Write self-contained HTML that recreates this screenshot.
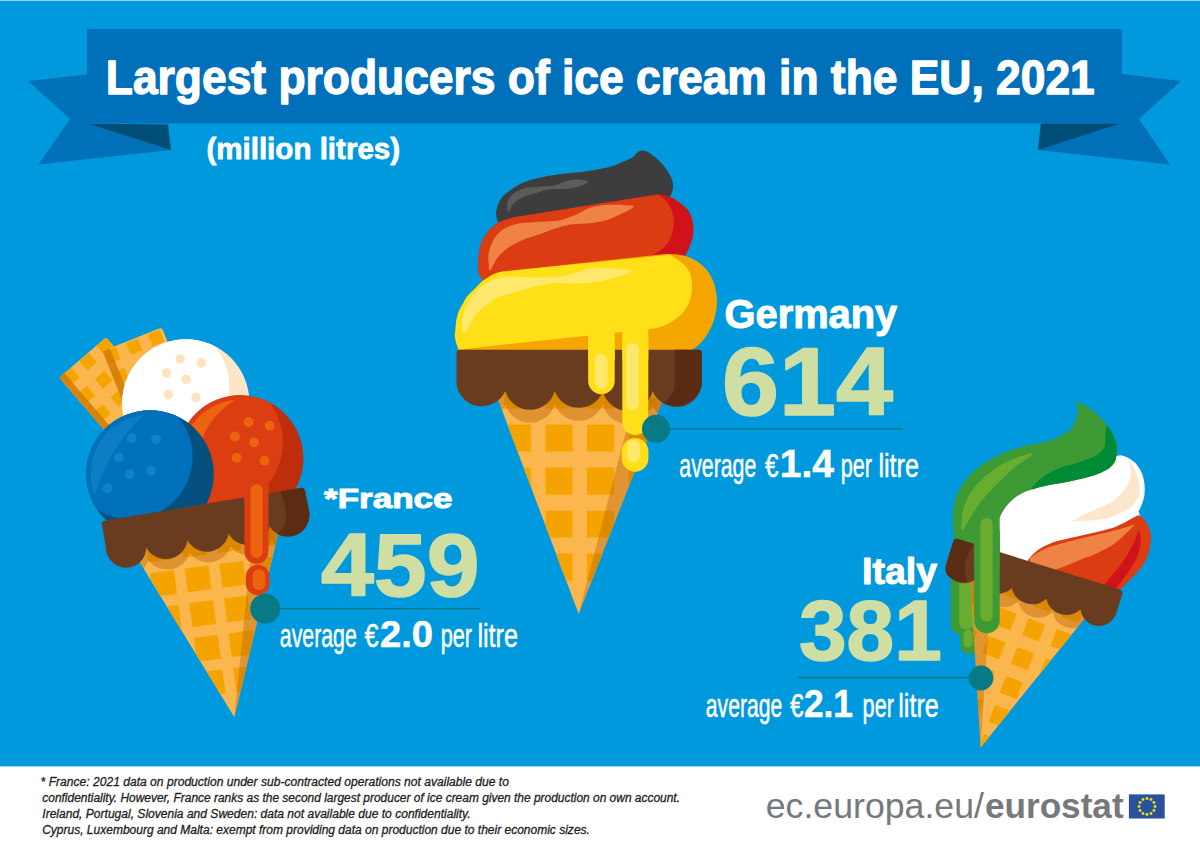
<!DOCTYPE html>
<html><head><meta charset="utf-8">
<style>
html,body{margin:0;padding:0;width:1200px;height:854px;overflow:hidden;background:#fff;}
svg{display:block;}
text{font-family:"Liberation Sans",sans-serif;}
</style></head>
<body>
<svg width="1200" height="854" viewBox="0 0 1200 854">
<!-- background -->
<rect x="0" y="0" width="1200" height="766.4" fill="#0099dd"/>
<rect x="0" y="0" width="1200" height="1" fill="#9ad5f2"/>
<!-- banner -->
<polygon points="28,81 87,74.5 87,123.5 171,150 38.6,164.6 70,119" fill="#0070b9"/>
<polygon points="87,123.5 168,124.5 171,150" fill="#004e78"/>
<polygon points="1122,74 1181,81 1139,119 1170,164.4 1038,150 1041,123.5 1122,123.5" fill="#0070b9"/>
<polygon points="1041,123.5 1120,123.5 1038,150" fill="#004e78"/>
<rect x="87" y="29" width="1035" height="94.5" fill="#0070bb"/>
<text x="105.8" y="94" font-size="48" font-weight="bold" fill="#fff" stroke="#fff" stroke-width="1.3" stroke-linejoin="round" textLength="989" lengthAdjust="spacingAndGlyphs">Largest producers of ice cream in the EU, 2021</text>
<text x="206.4" y="158.6" font-size="30" font-weight="bold" fill="#fff" stroke="#fff" stroke-width="0.8" stroke-linejoin="round" textLength="193.7" lengthAdjust="spacingAndGlyphs">(million litres)</text>

<g id="france">
<defs>
<clipPath id="fcone"><polygon points="114,520 281.4,520 234.4,717.3"/></clipPath>
<pattern id="fwaf" patternUnits="userSpaceOnUse" width="35" height="35" patternTransform="translate(193.9,638) rotate(-7.6)"><rect x="0" y="0" width="24" height="24" fill="#f5a300"/></pattern>
<pattern id="w1waf" patternUnits="userSpaceOnUse" width="23" height="24" patternTransform="translate(59.1,377.8) rotate(-40.8) translate(3.2,0.4)"><rect x="0" y="0" width="12.5" height="12.5" fill="#f5a300"/></pattern>
<pattern id="w2waf" patternUnits="userSpaceOnUse" width="23.5" height="22" patternTransform="translate(102.5,351.2) rotate(-21.8)"><rect x="1.5" y="1.5" width="12.5" height="12.5" fill="#f5a300"/></pattern>
<clipPath id="wball"><circle cx="185.8" cy="402.9" r="63.7"/></clipPath>
<clipPath id="bball"><circle cx="150" cy="474" r="63.8"/></clipPath>
<clipPath id="rball"><circle cx="240.3" cy="458.3" r="63.1"/></clipPath>
</defs>
<!-- wafer 1 -->
<g transform="translate(59.1,377.8) rotate(-40.8)">
<rect x="0" y="0" width="62" height="140" rx="3" fill="#fbb64e"/>
</g>
<rect x="0" y="300" width="200" height="200" fill="url(#w1waf)" clip-path="url(#w1clip)"/>
<clipPath id="w1clip"><rect x="0" y="0" width="62" height="140" rx="3" transform="translate(59.1,377.8) rotate(-40.8)"/></clipPath>
<g transform="translate(59.1,377.8) rotate(-40.8)">
<rect x="0" y="0" width="7" height="140" fill="#d07800" opacity="0.8"/>
</g>
<!-- wafer 2 -->
<clipPath id="w2clip"><rect x="0" y="0" width="64" height="120" rx="3" transform="translate(102.5,351.2) rotate(-21.8)"/></clipPath>
<g transform="translate(102.5,351.2) rotate(-21.8)">
<rect x="0" y="0" width="64" height="120" rx="3" fill="#fbb64e"/>
</g>
<rect x="0" y="300" width="250" height="200" fill="url(#w2waf)" clip-path="url(#w2clip)"/>
<g transform="translate(102.5,351.2) rotate(-21.8)">
<rect x="0" y="0" width="8" height="120" fill="#d07800" opacity="0.8"/>
</g>
<!-- white ball -->
<circle cx="185.8" cy="402.9" r="63.7" fill="#fde6c6"/>
<circle cx="166.7" cy="386.4" r="62.6" fill="#ffffff" clip-path="url(#wball)"/>
<g fill="#fde3c0">
<circle cx="180.3" cy="359" r="4.8"/><circle cx="201.4" cy="362.9" r="4.8"/><circle cx="166.6" cy="373" r="4.8"/>
<circle cx="186" cy="379.2" r="4.8"/><circle cx="168.5" cy="394.6" r="4.8"/><circle cx="196" cy="397.5" r="4.8"/>
</g>
<!-- cone -->
<g clip-path="url(#fcone)">
<rect x="120" y="500" width="170" height="220" fill="#fbb64e"/>
<rect x="120" y="500" width="170" height="220" fill="url(#fwaf)"/>
<polygon points="234.4,717.3 253.1,530 290,520 290,720" fill="#b05800" opacity="0.35"/>
<g transform="translate(101.4,521.25) rotate(-9.51)">
<path d="M0,20 L210,20 L210,38 A21,21 0 0 1 165,46 A23.5,23.5 0 0 1 123.4,46 A23.5,23.5 0 0 1 81.8,46 A23.5,23.5 0 0 1 39.9,46 A21,21 0 0 1 0,38 Z" fill="#b35a00" opacity="0.38"/>
<rect x="0" y="20" width="210" height="16" fill="#d47f00" opacity="0.6"/>
</g>
</g>
<!-- red ball -->
<circle cx="240.3" cy="458.3" r="63.1" fill="#bf2e0c"/>
<circle cx="216" cy="442.3" r="66.9" fill="#dc3e12" clip-path="url(#rball)"/>
<mask id="rhlm" maskUnits="userSpaceOnUse" x="0" y="0" width="1200" height="854"><circle cx="240.3" cy="458.3" r="58.6" fill="#fff"/><circle cx="274.6" cy="467.4" r="78.1" fill="#000"/></mask>
<rect x="170" y="390" width="140" height="140" fill="#ec6410" mask="url(#rhlm)"/>
<g fill="#ec6410">
<circle cx="248.5" cy="422" r="4.9"/><circle cx="269.7" cy="425.7" r="4.9"/><circle cx="234.9" cy="436.5" r="4.9"/>
<circle cx="254.1" cy="442.4" r="4.9"/><circle cx="236.7" cy="457.8" r="4.9"/><circle cx="264.6" cy="460.7" r="4.9"/>
</g>
<!-- blue ball -->
<circle cx="150" cy="474" r="63.8" fill="#05507e"/>
<circle cx="130.4" cy="457" r="62.2" fill="#0070ba" clip-path="url(#bball)"/>
<path d="M0,0" fill="none"/>
<mask id="bhlm" maskUnits="userSpaceOnUse" x="0" y="0" width="1200" height="854"><circle cx="150" cy="474" r="59.3" fill="#fff"/><circle cx="265.4" cy="544.4" r="177.6" fill="#000"/></mask>
<rect x="80" y="400" width="140" height="140" fill="#0b7ec6" mask="url(#bhlm)"/>
<g fill="#0b84cc">
<circle cx="131.6" cy="438.5" r="4.9"/><circle cx="155.9" cy="439.3" r="4.9"/><circle cx="118.9" cy="457.7" r="4.9"/>
<circle cx="151" cy="470.5" r="4.9"/><circle cx="129.7" cy="474.1" r="4.9"/><circle cx="107.4" cy="488.2" r="4.9"/>
</g>
<!-- chocolate -->
<g transform="translate(101.4,521.25) rotate(-9.51)">
<clipPath id="fchocclip"><path d="M3,0 L202.4,0 Q205.6,0 205.8,3.5 L206.5,25 A21.6,21.6 0 0 1 165,33 A22,22 0 0 1 123.4,33 A22,22 0 0 1 81.8,33 A22,22 0 0 1 39.9,33 A20,20 0 0 1 0,27 L0,3 Q0,0 3,0 Z"/></clipPath>
<path d="M3,0 L202.4,0 Q205.6,0 205.8,3.5 L206.5,25 A21.6,21.6 0 0 1 165,33 A22,22 0 0 1 123.4,33 A22,22 0 0 1 81.8,33 A22,22 0 0 1 39.9,33 A20,20 0 0 1 0,27 L0,3 Q0,0 3,0 Z" fill="#693c1f"/>
<path d="M181.6,-5 L220,-5 L220,60 L160,60 L170,43 C174,40 177.5,38 179.3,35 C182,30 184,25 183.8,19.7 C183.5,12 182,6 181.6,-5 Z" fill="#5b2c13" clip-path="url(#fchocclip)"/>
</g>
<!-- drip -->
<rect x="244.4" y="470" width="24" height="93.7" rx="12" fill="#dc3e12"/>
<rect x="244.4" y="470" width="24" height="30" fill="#dc3e12"/>
<rect x="250.5" y="484.2" width="12.2" height="73.7" rx="6.1" fill="#ec6410"/>
<rect x="245.8" y="564.8" width="23.7" height="30.5" rx="11.85" fill="#dc3e12"/>
<rect x="252.7" y="569.5" width="12.6" height="20.5" rx="6.3" fill="#ec6410"/>
</g>
<g id="germany">
<defs>
<clipPath id="gcone"><polygon points="490.7,380 670.6,380 578.7,614"/></clipPath>
<pattern id="gwaf" patternUnits="userSpaceOnUse" x="504" y="424.6" width="41.5" height="43"><rect x="0" y="0" width="27" height="27" fill="#f5a300"/></pattern>
</defs>
<g clip-path="url(#gcone)">
<rect x="490" y="390" width="180" height="230" fill="#fbb64e"/>
<rect x="490" y="390" width="180" height="230" fill="url(#gwaf)"/>
<polygon points="578.7,614 634.6,398 670,398" fill="#b05800" opacity="0.35"/>
<path d="M456,380 L702,380 L702,404 A25.6,25.6 0 0 1 652.6,404 A25.6,25.6 0 0 1 602.8,404 A25.6,25.6 0 0 1 554.7,404 A25.6,25.6 0 0 1 505.3,404 A25.6,25.6 0 0 1 456,404 Z" fill="#b35a00" opacity="0.38"/>
<path d="M456,380 L702,380 L702,394 L456,394Z" fill="#d47f00" opacity="0.6"/>
</g>
<!-- black scoop -->
<path d="M498.8,224 C496,218 495.5,213 496.8,209 C499,200 503,195 508.3,191.8 C515,186 524,182 533.3,179.3 C550,175 565,173.5 577.3,172.6 C595,170 607,168 615.7,164.9 C623,162 628,160 632.9,157.3 C636,154 638,151 641.6,150.5 C645,150 648,152 650.2,153.4 C656,157 662,163 667.4,170.7 C671,176 673,181 673.2,186 C673,190 672,193 670.3,196 L560,240 Z" fill="#3d3d3d"/>
<path d="M508.8,212.2 C509.7,211.4 511,206.3 513.3,203.9 C515.6,201.5 518.7,199.3 522.5,197.5 C526.3,195.7 531.7,194.3 536.2,192.9 C540.8,191.5 544.7,189.9 550,189.2 C555.3,188.6 562.9,189.4 568.3,188.8 C573.6,188.2 578.8,186.8 582.1,185.6 C585.4,184.4 588.8,182.5 588,181.5 C587.2,180.5 581.1,179.7 577.5,179.6 C573.9,179.5 570.3,180 566.5,181 C562.7,182 558.9,184.7 554.6,185.6 C550.3,186.5 545.7,186.1 540.8,186.5 C535.9,186.9 529.8,186.7 525.2,187.9 C520.7,189.1 516.2,191.6 513.3,193.8 C510.4,196 508.8,198.8 507.8,201.2 C506.8,203.6 507.2,206.7 507.4,208.5 C507.6,210.3 507.8,213 508.8,212.2 Z" fill="#5c5c5c"/>
<!-- red scoop -->
<path d="M488,284 C482,280 478.6,276 478.6,270 C477.8,264 477.8,260 478.8,255.5 C479.5,248 481,242 484.5,237.1 C487,232 490,229 494.4,225.75 C497,223.5 500,221.5 504.3,220.1 C509,218.5 513,217.5 518.5,216.5 L657.8,194.3 C665,194 672,197 677.5,201 C683,205 687.5,208.5 689.7,213.1 C692,218 693.4,222 693.4,227.2 C693.6,233 693,237 691.5,241.2 C690,246 688,251 685,256.2 L560,290 L480,290 Z" fill="#d0121b"/>
<path d="M488,284 C482,280 478.6,276 478.6,270 C477.8,264 477.8,260 478.8,255.5 C479.5,248 481,242 484.5,237.1 C487,232 490,229 494.4,225.75 C497,223.5 500,221.5 504.3,220.1 C509,218.5 513,217.5 518.5,216.5 L657.8,194.6 C664,199 668,202 669.3,205.2 C673,212 674,218 674.1,222.4 C673,232 671,238 667.4,243.5 C662,250 657,253 652.1,255 L560,290 L480,290 Z" fill="#dc3c12"/>
<path d="M490.2,270.4 C491.6,269.4 494.4,262 497.2,258.3 C500.1,254.6 502.9,251.5 507.2,248.4 C511.4,245.3 517.3,242.3 522.8,239.9 C528.2,237.5 534.3,236.1 539.8,234.2 C545.2,232.4 549.9,230.3 555.3,228.6 C560.7,226.9 566.1,225.2 572.3,224.3 C578.4,223.4 585.8,223.8 592.2,222.9 C598.6,222 603.8,221.3 610.6,218.7 C617.4,216.1 630.9,209.6 633.2,207.3 C635.6,205.1 629.7,205.5 624.8,205.2 C619.8,204.8 609.4,204.7 603.5,205.2 C597.6,205.7 594,206.3 589.3,208 C584.6,209.7 579.9,213.1 575.2,215.1 C570.5,217.1 565.7,219 561,220.1 C556.3,221.2 551.5,221.2 546.8,221.5 C542.1,221.8 537.4,221.8 532.7,222.2 C528,222.5 523.2,222.5 518.5,223.6 C513.8,224.7 508.3,226.1 504.3,228.6 C500.3,231.1 497,234.5 494.4,238.5 C491.8,242.5 489.7,248.4 488.8,252.7 C487.8,256.9 488.5,261.1 488.8,264 C489,266.9 488.8,271.3 490.2,270.4 Z" fill="#ef8245"/>
<!-- yellow scoop -->
<path d="M459,351 C455,341 454,335 455.5,330.3 C456,318 458,311 462.6,304.5 C466,297 470,293 474.3,289.3 C478,285 482,281 486,278.7 C491,275 496,273 501.2,271.7 L665,254 C700,252 717,275 717,301 C717,325 703,345 690,351 Z" fill="#f5a500"/>
<path d="M459,350 C455,341 454,335 455.5,330.3 C456,318 458,311 462.6,304.5 C466,297 470,293 474.3,289.3 C478,285 482,281 486,278.7 C491,275 496,273 501.2,271.7 L669.6,254.7 C677,259 683,263 685.5,266 C689.5,271 691.5,276 691.8,283 C692.5,290 691.5,295 690.2,299 C688,306 685,311 681.2,314.5 C676,319 671,322.5 665.8,324.9 C660,327.5 654,328.8 647.7,329.3 L455,350 Z" fill="#ffdf17"/>
<path d="M465.3,332.6 C467.6,331.6 470.7,320.8 475.6,315.2 C480.5,309.6 487.5,303.3 494.6,299.3 C501.7,295.3 510.4,293.8 518.3,291.4 C526.2,289 535.5,286.6 542.1,285.1 C548.7,283.7 551.3,283 557.9,282.7 C564.5,282.4 573.8,283.9 581.7,283.5 C589.6,283.1 597.1,282.3 605.4,280.3 C613.7,278.3 630.2,273.6 631.5,271.6 C632.8,269.6 620.3,269 613.3,268.5 C606.3,268 597.5,267.3 589.6,268.5 C581.7,269.7 572.4,274.2 565.8,275.6 C559.2,277.1 556.6,276.9 550,277.2 C543.4,277.5 534.1,277.2 526.2,277.2 C518.3,277.2 509.6,275.9 502.5,277.2 C495.4,278.5 489.3,280.9 483.5,285.1 C477.7,289.3 471.3,296.4 467.7,302.5 C464.1,308.6 462.5,316.5 462.1,321.5 C461.7,326.5 463.1,333.7 465.3,332.6 Z" fill="#ffe86c"/>
<!-- chocolate -->
<path d="M459.5,349.75 L698.8,349.75 Q701.8,349.75 701.8,353 L701.8,384 A25.6,25.6 0 0 1 652.6,391 A25.6,25.6 0 0 1 602.8,391 A25.6,25.6 0 0 1 554.7,391 A25.6,25.6 0 0 1 505.3,391 A25.6,25.6 0 0 1 456.5,384 L456.5,353 Q456.5,349.75 459.5,349.75 Z" fill="#693c1f"/>
<path d="M674.9,349.75 L698.8,349.75 Q701.8,349.75 701.8,353 L701.8,384 A25.6,25.6 0 0 1 663,402 C670,398 674.9,392 674.9,384 Z" fill="#592b14"/>
<!-- drips -->
<rect x="588.2" y="330" width="26.5" height="64.2" rx="13.25" fill="#ffdf17"/>
<rect x="588.2" y="330" width="26.5" height="30" fill="#ffdf17"/>
<rect x="594.7" y="354" width="13" height="34.8" rx="6.5" fill="#ffe76a"/>
<rect x="622.3" y="329" width="26" height="106" rx="13" fill="#ffdf17"/>
<rect x="622.3" y="329" width="26" height="30" fill="#ffdf17"/>
<rect x="626" y="343" width="13" height="67" rx="6.5" fill="#ffe76a"/>
<rect x="621.8" y="438" width="26.6" height="33.7" rx="13.3" fill="#ffdf17"/>
<rect x="627" y="440" width="13" height="22.3" rx="6.5" fill="#ffe76a"/>
</g>
<g id="italy">
<defs>
<clipPath id="icone"><polygon points="969.4,560 1099.1,600.4 980.6,747.4"/></clipPath>
<pattern id="iwaf" patternUnits="userSpaceOnUse" width="30.5" height="31" patternTransform="translate(1028.4,618.1) rotate(21)"><rect x="0" y="0" width="18" height="18" fill="#f5a300"/></pattern>
</defs>
<!-- white swirl -->
<path d="M995,508 C1004,500 1012,495 1018.7,492 C1028,487 1037,483 1046.8,480.7 C1060,477 1072,474 1084.3,471.3 C1092,469 1099,467 1104.9,463.9 C1110,461 1113,459 1114.3,456.5 L1117.1,455.9 C1119,455 1121,455 1123.7,455.9 C1128,457 1132,460 1134.9,462.5 C1139,467 1142,472 1143.3,477.5 C1145,484 1145,490 1144.3,496.2 C1143,502 1141,507 1138.6,511.2 L1143,525 L1090,548 L1030,562 L1020,575 L995,575 Z" fill="#ffffff"/>
<path d="M1128.3,460.6 C1133,465 1136,471 1137.7,477.5 C1139,483 1140,489 1139.6,494.3 C1138,499 1135,503 1131.1,507.4 C1125,511 1119,514 1112.4,516.8 C1105,519 1097,520 1089.9,520.6 C1083,521 1077,521 1072.1,521.5 C1077,518 1082,515 1088,513 C1096,509 1104,506 1112.4,501.8 C1119,497 1124,491 1127.4,485 C1130,481 1131,476 1131.1,471.9 C1131,467 1130,463 1128.3,460.6 Z" fill="#fde7cb"/>
<!-- red swirl -->
<path d="M1028.1,559.9 C1035,550 1045,545 1056.2,541.2 C1075,537 1095,533 1112.4,528.1 C1122,524 1128,521 1131.1,518.7 L1138.6,515 C1144,518 1147,522 1148,526.2 C1151,532 1151.5,537 1150.8,541.2 C1150,548 1149,553 1146.1,559.9 C1142,567 1137,573 1131.1,578.6 C1127,583 1123,587 1119.9,589.9 L1020,580 Z" fill="#dc3c12"/>
<path d="M1030,558 C1038,552 1047,547 1056.2,544.9 C1070,541 1082,538 1093.7,535.5 C1110,532 1125,528 1134.9,524.3 C1128,532 1120,540 1112.4,544.9 C1102,551 1094,555 1084.3,558 C1075,562 1066,566 1056.2,569.3 L1030,578 Z" fill="#ef8346"/>
<path d="M1138.6,530 C1141,536 1141,540 1140.5,544.9 C1139.5,551 1137.5,556 1134.9,561.8 C1133,565 1131.5,567.5 1129.7,570 L1110,597 L1098,592 L1104.3,584.3 L1116.5,570 C1122,563 1127,556 1130.5,549 C1134,542 1137,536 1138.6,530 Z" fill="#d0121b"/>
<!-- green swirl + drips -->
<path d="M1075.2,401.7 C1078,405 1078,410 1077,414.3 C1076,420 1074,425 1071.7,428.4 C1066,433 1060,436 1054.1,438.9 C1045,442 1035,444 1024.3,445.9 C1012,449 1002,453 992.7,458.2 C982,464 973,471 966.3,479.3 C960,487 956,495 954,503.9 C952.5,512 952.8,522 953.2,528 C953.6,533 954,536 954.4,539 L951,600 L999.7,600 L999.7,517.9 C1002,512 1006,506 1010.2,502.1 C1016,496 1023,492 1031.3,489.8 C1042,486 1052,484.5 1062.9,482.8 C1073,481 1083,478.5 1092.8,475.8 C1099,474 1104,471 1108.6,468.7 C1112,466 1114.5,463 1115.6,460 C1117,454 1117,449 1116.5,444.2 C1115,437 1111,430 1106.8,424.9 C1102,419 1097,414 1092.8,410.8 C1087,406 1081,403 1075.2,401.7 Z" fill="#3d9a35"/>
<path d="M1106.8,424.9 C1105,432 1105,440 1105,446 C1102,451 1099,454 1094.5,456.5 C1085,461 1074,464 1062.9,467 C1050,471 1040,478 1031.3,488 C1035,489.5 1033,489.8 1031.3,489.8 C1042,486 1052,484.5 1062.9,482.8 C1073,481 1083,478.5 1092.8,475.8 C1099,474 1104,471 1108.6,468.7 C1112,466 1114.5,463 1115.6,460 C1117,454 1117,449 1116.5,444.2 C1115,437 1111,430 1106.8,424.9 Z" fill="#008a33"/>
<path d="M962,530.2 C960.5,529.8 961.5,518.3 962.6,512.6 C963.7,506.9 965.5,501.5 968.4,496.2 C971.3,490.9 975.8,485.5 980.1,481 C984.4,476.5 989.1,472.8 994.2,469.3 C999.3,465.8 1004.2,462.5 1010.6,459.9 C1017,457.3 1032,452.3 1032.8,453.5 C1033.6,454.7 1021.1,461.9 1015.3,466.9 C1009.4,471.9 1003,478 997.7,483.3 C992.4,488.6 987.9,493.2 983.6,498.5 C979.3,503.8 975.5,509.6 971.9,514.9 C968.3,520.2 963.5,530.6 962,530.2 Z" fill="#68ad2f"/>
<rect x="950.8" y="560" width="26" height="74.8" rx="10" fill="#3d9a35"/>
<rect x="960.1" y="600" width="20" height="54" rx="9.5" fill="#3d9a35"/>
<rect x="959.2" y="560" width="16" height="69.2" rx="7" fill="#68ad2f"/>
<rect x="963.4" y="629.7" width="9.4" height="17.8" rx="4.7" fill="#68ad2f"/>
<!-- cone -->
<g clip-path="url(#icone)">
<rect x="950" y="550" width="160" height="200" fill="#fbb64e"/>
<rect x="950" y="550" width="160" height="200" fill="url(#iwaf)"/>
<polygon points="980.6,747.4 991.6,580 960,560 960,750" fill="#b05800" opacity="0.35"/>
<g transform="translate(955.8,538.4) rotate(17.3)">
<path d="M-10,15 L185,15 L185,33 A20,20 0 0 1 150.2,41.6 A20.7,20.7 0 0 1 114.3,41.6 A20.7,20.7 0 0 1 78.3,41.6 A20.7,20.7 0 0 1 42.3,41.6 A20,20 0 0 1 -10,35 Z" fill="#b35a00" opacity="0.38"/>
<rect x="-10" y="15" width="195" height="18" fill="#d47f00" opacity="0.6"/>
</g>
</g>
<!-- chocolate -->
<g transform="translate(955.8,538.4) rotate(17.3)">
<path d="M3,0 L172,0 Q175.5,0 175.5,4 L175.5,22 A18.4,18.4 0 0 1 140.2,30.6 A20.7,20.7 0 0 1 104.3,30.6 A20.7,20.7 0 0 1 68.3,30.6 A20.7,20.7 0 0 1 32.3,30.6 A18,18 0 0 1 -1.5,28 L-1.5,3 Q-1.5,0 3,0 Z" fill="#693c1f"/>
<path d="M3,0 L19.2,0 C16,8 16,15 16.7,22.7 C18,29 21,34 23.6,38.3 C8,43 -1.5,38 -1.5,28 L-1.5,3 Q-1.5,0 3,0 Z" fill="#5b2c14"/>
</g>
<!-- drip 2 -->
<rect x="974.2" y="525" width="25.5" height="108.3" rx="12.75" fill="#3d9a35"/>
<rect x="974.2" y="530" width="25.5" height="40" fill="#3d9a35"/>
<rect x="980.4" y="518" width="12.3" height="103.8" rx="6.15" fill="#68ad2f"/>
</g>
<!-- labels -->
<g fill="#fff" font-weight="bold" stroke="#fff" stroke-width="1" stroke-linejoin="round">
<text x="324" y="508" font-size="28" textLength="128.5" lengthAdjust="spacingAndGlyphs">*France</text>
<text x="724.5" y="327.5" font-size="40" textLength="172.7" lengthAdjust="spacingAndGlyphs">Germany</text>
<text x="862" y="583.8" font-size="36" textLength="75" lengthAdjust="spacingAndGlyphs">Italy</text>
</g>
<g fill="#cfdea2" font-weight="bold" stroke="#cfdea2" stroke-width="1.6" stroke-linejoin="round">
<text x="321" y="596.4" font-size="89.5" textLength="158.6" lengthAdjust="spacingAndGlyphs">459</text>
<text x="722" y="415" font-size="96" textLength="171" lengthAdjust="spacingAndGlyphs">614</text>
<text x="799" y="660" font-size="85.5" textLength="142.75" lengthAdjust="spacingAndGlyphs">381</text>
</g>
<g stroke="#077583" stroke-width="1.3">
<line x1="265" y1="608.6" x2="479.5" y2="608.6"/>
<line x1="656" y1="428.8" x2="902.5" y2="428.8"/>
<line x1="797" y1="677.5" x2="980" y2="677.5"/>
</g>
<g fill="#077a86">
<circle cx="265.2" cy="608.7" r="15"/>
<circle cx="656" cy="428.8" r="14"/>
<circle cx="981" cy="678" r="12.4"/>
</g>
<g fill="#fff" font-size="33.5" stroke="#fff" stroke-width="0.5">
<text x="279.8" y="647.3" textLength="77.0" lengthAdjust="spacingAndGlyphs">average</text>
<text x="364.6" y="647.3" textLength="14" lengthAdjust="spacingAndGlyphs">€</text>
<text x="379.9" y="647.3" font-size="36.5" font-weight="bold" textLength="53.1" lengthAdjust="spacingAndGlyphs">2.0</text>
<text x="440.7" y="647.3" textLength="31.3" lengthAdjust="spacingAndGlyphs">per</text>
<text x="477.4" y="647.3" textLength="40.6" lengthAdjust="spacingAndGlyphs">litre</text>
<text x="679.3" y="477.3" textLength="77.0" lengthAdjust="spacingAndGlyphs">average</text>
<text x="765" y="477.3" textLength="13.5" lengthAdjust="spacingAndGlyphs">€</text>
<text x="779.8" y="477.3" font-size="38" font-weight="bold" textLength="54.0" lengthAdjust="spacingAndGlyphs">1.4</text>
<text x="840.7" y="477.3" textLength="31.3" lengthAdjust="spacingAndGlyphs">per</text>
<text x="878.4" y="477.3" textLength="40.6" lengthAdjust="spacingAndGlyphs">litre</text>
<text x="705.8" y="716.7" textLength="76.5" lengthAdjust="spacingAndGlyphs">average</text>
<text x="790" y="716.7" textLength="13.5" lengthAdjust="spacingAndGlyphs">€</text>
<text x="803.9" y="716.7" font-size="38" font-weight="bold" textLength="49.1" lengthAdjust="spacingAndGlyphs">2.1</text>
<text x="862.6" y="716.7" textLength="31.3" lengthAdjust="spacingAndGlyphs">per</text>
<text x="898.2" y="716.7" textLength="40.6" lengthAdjust="spacingAndGlyphs">litre</text>
</g>

<!-- footer -->
<g fill="#231f20" font-size="12" font-style="italic" stroke="#231f20" stroke-width="0.3">
<text x="40.6" y="785.7" textLength="468.3" lengthAdjust="spacingAndGlyphs">* France: 2021 data on production under sub-contracted operations not available due to</text>
<text x="42.3" y="802" textLength="637.7" lengthAdjust="spacingAndGlyphs">confidentiality. However, France ranks as the second largest producer of ice cream given the production on own account.</text>
<text x="42.3" y="818" textLength="428.3" lengthAdjust="spacingAndGlyphs">Ireland, Portugal, Slovenia and Sweden: data not available due to confidentiality.</text>
<text x="42.2" y="834" textLength="547.7" lengthAdjust="spacingAndGlyphs">Cyprus, Luxembourg and Malta: exempt from providing data on production due to their economic sizes.</text>
</g>
<g fill="#77787b" font-size="35">
<text x="765.7" y="817.8" textLength="218.3" lengthAdjust="spacingAndGlyphs">ec.europa.eu/</text>
<text x="985" y="817.8" font-weight="bold" textLength="138.6" lengthAdjust="spacingAndGlyphs">eurostat</text>
</g>
<rect x="1128.9" y="794.4" width="35.8" height="24.1" fill="#2a519c"/>
<g fill="#efdc1c"><circle cx="1147.00" cy="798.50" r="1.45"/><circle cx="1151.00" cy="799.57" r="1.45"/><circle cx="1153.93" cy="802.50" r="1.45"/><circle cx="1155.00" cy="806.50" r="1.45"/><circle cx="1153.93" cy="810.50" r="1.45"/><circle cx="1151.00" cy="813.43" r="1.45"/><circle cx="1147.00" cy="814.50" r="1.45"/><circle cx="1143.00" cy="813.43" r="1.45"/><circle cx="1140.07" cy="810.50" r="1.45"/><circle cx="1139.00" cy="806.50" r="1.45"/><circle cx="1140.07" cy="802.50" r="1.45"/><circle cx="1143.00" cy="799.57" r="1.45"/></g>
</svg>
</body></html>
